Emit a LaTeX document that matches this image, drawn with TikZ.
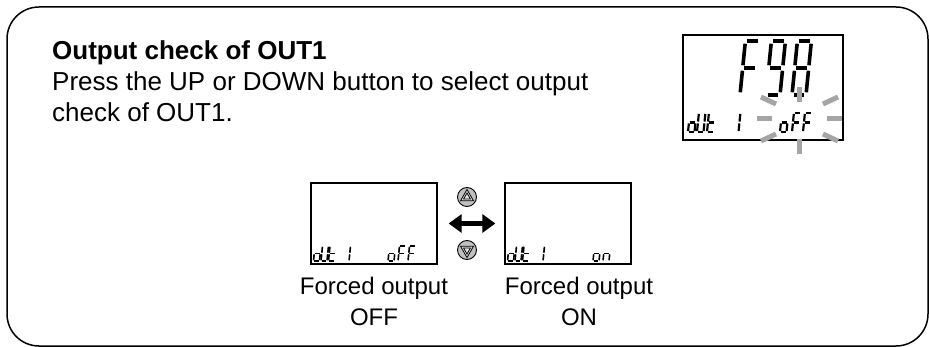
\documentclass[tikz,border=0pt]{standalone}
\usepackage{fontspec}
\setmainfont{Liberation Sans}
\usetikzlibrary{arrows.meta, positioning, shapes.geometric}
\definecolor{lcdgray}{RGB}{165,165,165}
\definecolor{btngray}{RGB}{192,192,192}

% seven segment glyph: x, y (bottom left), width, height, stroke, segments
\newcommand{\lcdglyph}[6]{%
  \begin{scope}[shift={(#1,#2)}, x=#3pt, y=#4pt, xslant=0.1, line width=#5pt]
    \foreach \sg in {#6}{%
      \if a\sg \draw (0.12,1) -- (0.88,1); \fi
      \if b\sg \draw (1,0.95) -- (1,0.55); \fi
      \if c\sg \draw (1,0.45) -- (1,0.05); \fi
      \if d\sg \draw (0.12,0) -- (0.88,0); \fi
      \if e\sg \draw (0,0.45) -- (0,0.05); \fi
      \if f\sg \draw (0,0.95) -- (0,0.55); \fi
      \if g\sg \draw (0.12,0.5) -- (0.88,0.5); \fi
    }
  \end{scope}}

\begin{document}
\begin{tikzpicture}[x=1pt, y=-1pt,
  outerframe/.style={draw, line width=1.5pt, rounded corners=32pt},
  lcd/.style={draw, line width=1.3pt, inner sep=0pt},
  textline/.style={font=\fontsize{26}{31}\selectfont, inner sep=0pt, align=left},
  caption/.style={font=\fontsize{24}{31}\selectfont, inner sep=0pt, align=center},
  ray/.style={draw=lcdgray, line width=5pt},
  btn/.style={circle, draw, fill=btngray, line width=0.9pt,
              minimum size=19pt, inner sep=0pt},
  tri/.style={regular polygon, regular polygon sides=3, draw,
              line width=0.8pt, inner sep=0pt},
  dblarrow/.style={{Triangle[length=13pt, width=18pt]}-{Triangle[length=13pt, width=18pt]},
                   line width=5pt}
]
\useasboundingbox (0,0) rectangle (929,347);

% Outer frame
\draw[outerframe] (7,7) rectangle (928,346);

% Instruction text
\node[textline, font=\fontsize{26}{31}\selectfont\bfseries, anchor=base west] (title) at (52,60)
  {Output check of OUT1};
\node[textline, anchor=north west] (instr) at (52,71.5)
  {Press the UP or DOWN button to select output\\check of OUT1.};

% Main display
\node[lcd, minimum width=160pt, minimum height=105pt] (mainlcd) at (763,87.5) {};
\lcdglyph{740}{95}{14}{54}{3.6}{a,f,e,g}
\lcdglyph{766}{95}{14}{54}{3.6}{a,b,c,d,f,g}
\lcdglyph{792}{95}{14}{54}{3.6}{a,b,c,d,e,f,g}
\lcdglyph{688}{132}{6.5}{19}{2.2}{c,d,e,g}
\lcdglyph{697}{132}{6.5}{19}{2.2}{b,c,d,e,f}
\lcdglyph{707}{132}{6.5}{19}{2.2}{d,e,f,g}
\lcdglyph{732}{132}{6.5}{19}{2.2}{b,c}
\lcdglyph{780}{132}{6.5}{19}{2.2}{c,d,e,g}
\lcdglyph{792}{132}{6.5}{19}{2.2}{a,e,f,g}
\lcdglyph{803}{132}{6.5}{19}{2.2}{a,e,f,g}

% Blinking marks round oFF
\draw[ray] (757,119) -- (772,119);
\draw[ray] (827,119) -- (842,119);
\draw[ray] (761,97) -- (776,104);
\draw[ray] (761,141) -- (776,134);
\draw[ray] (823,104) -- (838,97);
\draw[ray] (823,134) -- (838,141);
\draw[ray] (799,87) -- (799,102);
\draw[ray] (799,139) -- (799,154);

% Forced output OFF
\node[lcd, minimum width=126pt, minimum height=81pt] (offlcd) at (374,223.5) {};
\lcdglyph{313.5}{261}{6}{15}{1.6}{c,d,e,g}
\lcdglyph{321}{261}{6}{15}{1.6}{b,c,d,e,f}
\lcdglyph{328.5}{261}{6}{15}{1.6}{d,e,f,g}
\lcdglyph{343}{261}{6}{15}{1.6}{b,c}
\lcdglyph{388}{261}{6}{15}{1.6}{c,d,e,g}
\lcdglyph{398}{261}{6}{15}{1.6}{a,e,f,g}
\lcdglyph{408}{261}{6}{15}{1.6}{a,e,f,g}
\node[caption, below=12pt of offlcd] (offtext) {Forced output\\OFF};

% Forced output ON
\node[lcd, minimum width=126pt, minimum height=81pt] (onlcd) at (568,223.5) {};
\lcdglyph{507.5}{261}{6}{15}{1.6}{c,d,e,g}
\lcdglyph{515}{261}{6}{15}{1.6}{b,c,d,e,f}
\lcdglyph{522.5}{261}{6}{15}{1.6}{d,e,f,g}
\lcdglyph{537}{261}{6}{15}{1.6}{b,c}
\lcdglyph{593}{261}{6}{15}{1.6}{c,d,e,g}
\lcdglyph{603}{261}{6}{15}{1.6}{c,e,g}
\node[caption, below=12pt of onlcd, xshift=11pt] (ontext) {Forced output\\ON};

% UP / DOWN buttons
\node[btn] (upbtn) at (467,197) {};
\node[tri, fill=btngray!45, minimum size=15pt] at (upbtn) {};
\node[tri, minimum size=8pt] at (upbtn) {};
\node[btn] (downbtn) at (467,250) {};
\node[tri, fill=btngray!45, minimum size=15pt, shape border rotate=180] at (downbtn) {};
\node[tri, minimum size=8pt, shape border rotate=180] at (downbtn) {};

% Toggle arrow
\draw[dblarrow, shorten <=11pt, shorten >=9pt] (offlcd.east) -- (onlcd.west);

\end{tikzpicture}
\end{document}
